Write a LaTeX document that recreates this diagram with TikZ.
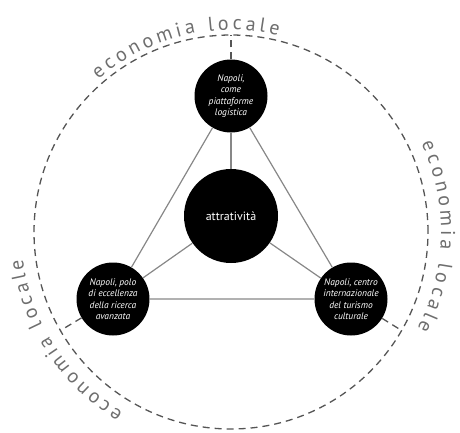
\documentclass[tikz,border=0pt]{standalone}
\usepackage{fontspec}
\setmainfont{PT Sans}
\usetikzlibrary{calc,decorations.text}

\definecolor{ringgray}{RGB}{85,85,85}
\definecolor{linegray}{RGB}{135,135,135}
\definecolor{labelgray}{RGB}{110,110,110}
\newcommand{\ringfont}{\fontsize{20}{20}\selectfont}

\begin{document}
\begin{tikzpicture}[x=1pt,y=1pt,
  ring/.style={ringgray,line width=1.3pt,dash pattern=on 7pt off 5pt},
  spoke/.style={linegray,line width=1.2pt},
  pole/.style={circle,fill=black,minimum size=73pt,inner sep=0pt,text=white,
    align=center,font=\fontsize{9.5}{11.5}\selectfont\itshape},
  core/.style={circle,fill=black,minimum size=94pt,inner sep=0pt,text=white,
    font=\fontsize{12}{14}\selectfont},
  arctext/.style={decorate,decoration={text along path,
    text={|\ringfont|economia locale},text color=labelgray,text align=fit to path}}]
  \useasboundingbox (0,0) rectangle (460,432);

  \coordinate (O) at (231,200);
  \draw[ring] (O) circle [radius=197];
  \coordinate (rimT) at ($(O)+(90:197)$);
  \coordinate (rimL) at ($(O)+(210:197)$);
  \coordinate (rimR) at ($(O)+(330:197)$);

  \node[core] (attr) at (231,216) {attratività};
  \node[pole] (top) at (231,336) {Napoli,\\come\\piattaforme\\logistica};
  \node[pole] (left) at (113,133) {Napoli, polo\\di eccellenza\\della ricerca\\avanzata};
  \node[pole] (right) at (351,133) {Napoli, centro\\internazionale\\del turismo\\culturale};

  \draw[spoke] (top) -- (left) -- (right) -- (top);
  \foreach \p in {top,left,right}
    \draw[spoke] (attr) -- (\p);

  \draw[ring] (top) -- (rimT);
  \draw[ring] (left) -- (rimL);
  \draw[ring] (right) -- (rimR);

  \path[arctext] ($(O)+(131:202)$) arc [start angle=131,end angle=76.5,radius=202];
  \path[arctext] ($(O)+(25:210)$) arc [start angle=25,end angle=-27.5,radius=210];
  \path[arctext] ($(O)+(239:210)$) arc [start angle=239,end angle=187.5,radius=210];
\end{tikzpicture}
\end{document}
